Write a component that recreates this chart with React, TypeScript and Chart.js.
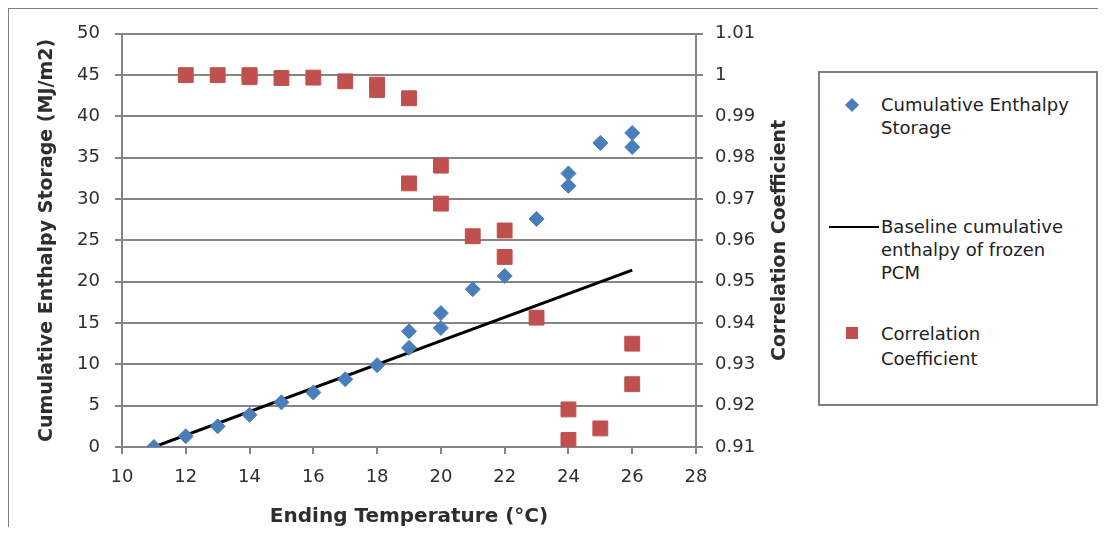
import React, { useEffect, useRef } from "react";
import { Chart, registerables } from "chart.js";

Chart.register(...registerables);

// ---- Data ----
const ENTHALPY_TEMP = [11, 12, 13, 14, 15, 16, 17, 18, 19, 19, 20, 20, 21, 22, 22, 23, 24, 24, 25, 26, 26];
const ENTHALPY = [0, 1.3, 2.5, 3.9, 5.4, 6.6, 8.2, 9.9, 12.0, 14.0, 14.4, 16.2, 19.1, 20.7, 23.0, 27.6, 31.6, 33.1, 36.8, 36.3, 38.0];

const BASELINE_TEMP = [11, 26];
const BASELINE = [0, 21.4];

const CORR_TEMP = [12, 13, 14, 14, 15, 16, 17, 18, 18, 19, 19, 20, 20, 21, 22, 22, 23, 24, 24, 25, 26, 26];
const CORR = [1.0, 1.0, 1.0, 0.9995, 0.9993, 0.9994, 0.9985, 0.9977, 0.9964, 0.9944, 0.9738, 0.9781, 0.9689, 0.961, 0.9624, 0.956, 0.9413, 0.9191, 0.9117, 0.9145, 0.935, 0.9252];

const X_TICKS = [10, 12, 14, 16, 18, 20, 22, 24, 26, 28];
const Y_TICKS = [0, 5, 10, 15, 20, 25, 30, 35, 40, 45, 50];
const Y2_TICKS = [0.91, 0.92, 0.93, 0.94, 0.95, 0.96, 0.97, 0.98, 0.99, 1.0, 1.01];
const Y2_LABELS = ["0.91", "0.92", "0.93", "0.94", "0.95", "0.96", "0.97", "0.98", "0.99", "1", "1.01"];

const X_TITLE = "Ending Temperature (°C)";
const Y_TITLE = "Cumulative Enthalpy Storage (MJ/m2)";
const Y2_TITLE = "Correlation Coefficient";

const LEGEND_ENTHALPY = ["Cumulative Enthalpy", "Storage"];
const LEGEND_BASELINE = ["Baseline cumulative", "enthalpy of frozen", "PCM"];
const LEGEND_CORR = ["Correlation", "Coefficient"];

const BLUE = "#4a7ebb";
const RED = "#c0504d";
const GRID = "#858585";
const TEXT = "#2e2e2e";
const FONT = '"DejaVu Sans", Verdana, sans-serif';

const W = 1090;
const H = 519;

const rightTitlePlugin = {
  id: "rightTitle",
  afterDraw(chart: any) {
    const ctx = chart.ctx;
    const s = chart.scales.y2;
    const ca = chart.chartArea;
    ctx.save();
    ctx.translate(s.left + 84, (ca.top + ca.bottom) / 2);
    ctx.rotate(-Math.PI / 2);
    ctx.font = `bold 19px ${FONT}`;
    ctx.fillStyle = TEXT;
    ctx.textAlign = "center";
    ctx.textBaseline = "middle";
    ctx.fillText(Y2_TITLE, 0, 0);
    ctx.restore();
  },
};

function Chart1() {
  const ref = useRef<HTMLCanvasElement | null>(null);
  useEffect(() => {
    if (!ref.current) return;
    const tickFont = { family: FONT, size: 18 };
    const chart = new Chart(ref.current, {
      type: "scatter",
      data: {
        datasets: [
          {
            label: "Correlation Coefficient",
            data: CORR_TEMP.map((x, i) => ({ x, y: CORR[i] })),
            yAxisID: "y2",
            pointStyle: "rect",
            pointRadius: 10.5,
            backgroundColor: RED,
            borderColor: RED,
            borderWidth: 1,
            showLine: false,
            order: 0,
          },
          {
            label: "Cumulative Enthalpy Storage",
            data: ENTHALPY_TEMP.map((x, i) => ({ x, y: ENTHALPY[i] })),
            yAxisID: "y",
            pointStyle: "rectRot",
            pointRadius: 7.5,
            backgroundColor: BLUE,
            borderColor: BLUE,
            borderWidth: 1,
            showLine: false,
            order: 1,
          },
          {
            label: "Baseline cumulative enthalpy of frozen PCM",
            data: BASELINE_TEMP.map((x, i) => ({ x, y: BASELINE[i] })),
            yAxisID: "y",
            showLine: true,
            borderColor: "#000000",
            borderWidth: 3,
            pointRadius: 0,
            fill: false,
            order: 2,
          } as any,
        ],
      },
      options: {
        animation: false,
        responsive: false,
        devicePixelRatio: 1,
        layout: { padding: { left: 0, top: 25, right: 292, bottom: 0 } },
        plugins: {
          legend: { display: false },
          tooltip: { enabled: false },
        },
        scales: {
          x: {
            type: "linear",
            min: 10,
            max: 28,
            afterBuildTicks: (s: any) => {
              s.ticks = X_TICKS.map((v) => ({ value: v }));
            },
            afterFit: (s: any) => {
              s.height = 80;
            },
            grid: { drawOnChartArea: false, tickLength: 7, color: GRID, lineWidth: 2 },
            border: { color: GRID, width: 2 },
            ticks: { font: tickFont, color: TEXT, padding: 13, maxRotation: 0 },
            title: {
              display: true,
              text: X_TITLE,
              font: { family: FONT, size: 20, weight: "bold", lineHeight: 1 },
              color: TEXT,
              padding: { top: 0, bottom: 0 },
            },
          },
          y: {
            type: "linear",
            position: "left",
            min: 0,
            max: 50,
            afterBuildTicks: (s: any) => {
              s.ticks = Y_TICKS.map((v) => ({ value: v }));
            },
            afterFit: (s: any) => {
              s.width = 114;
            },
            grid: { tickLength: 7, color: GRID, lineWidth: 2 },
            border: { color: GRID, width: 2 },
            ticks: { font: tickFont, color: TEXT, padding: 15 },
            title: {
              display: true,
              text: Y_TITLE,
              font: { family: FONT, size: 19, weight: "bold", lineHeight: 1 },
              color: TEXT,
              padding: { top: 30, bottom: 0 },
            },
          },
          y2: {
            type: "linear",
            position: "right",
            min: 0.91,
            max: 1.01,
            afterBuildTicks: (s: any) => {
              s.ticks = Y2_TICKS.map((v) => ({ value: v }));
            },
            afterFit: (s: any) => {
              s.width = 110;
            },
            grid: { drawOnChartArea: false, tickLength: 7, color: GRID, lineWidth: 2 },
            border: { color: GRID, width: 2 },
            ticks: {
              font: tickFont,
              color: TEXT,
              padding: 12,
              callback: (v: any) => {
                const i = Y2_TICKS.findIndex((t) => Math.abs(t - Number(v)) < 1e-6);
                return i >= 0 ? Y2_LABELS[i] : "";
              },
            },
          },
        },
      },
      plugins: [rightTitlePlugin],
    });
    return () => chart.destroy();
  }, []);
  return <canvas ref={ref} width={W} height={H} style={{ position: "absolute", left: 0, top: 0, width: W, height: H }} />;
}

const legendText: React.CSSProperties = {
  fontFamily: FONT,
  fontSize: 18,
  lineHeight: "23px",
  color: "#222",
  position: "absolute",
  left: 61,
  whiteSpace: "nowrap",
};

function Legend() {
  return (
    <div
      style={{
        position: "absolute",
        left: 810,
        top: 63,
        width: 276,
        height: 331,
        border: "2px solid #7f7f7f",
        background: "#fff",
      }}
    >
      <div
        style={{
          position: "absolute",
          left: 27,
          top: 27,
          width: 10,
          height: 10,
          background: BLUE,
          transform: "rotate(45deg)",
        }}
      />
      <div style={{ ...legendText, top: 20 }}>
        {LEGEND_ENTHALPY.map((t, i) => (
          <div key={i}>{t}</div>
        ))}
      </div>
      <div style={{ position: "absolute", left: 9, top: 153, width: 50, height: 2, background: "#000" }} />
      <div style={{ ...legendText, top: 142 }}>
        {LEGEND_BASELINE.map((t, i) => (
          <div key={i}>{t}</div>
        ))}
      </div>
      <div style={{ position: "absolute", left: 26, top: 254, width: 12, height: 12, background: RED }} />
      <div style={{ ...legendText, top: 248, lineHeight: "25px" }}>
        {LEGEND_CORR.map((t, i) => (
          <div key={i}>{t}</div>
        ))}
      </div>
    </div>
  );
}

export default function App() {
  return (
    <div style={{ position: "relative", width: W, height: H }}>
      <div
        style={{
          position: "absolute",
          left: -1,
          top: -1,
          width: W + 10,
          height: H + 10,
          borderTop: "2px solid #7f7f7f",
          borderLeft: "2px solid #7f7f7f",
          pointerEvents: "none",
        }}
      />
      <Chart1 />
      <Legend />
    </div>
  );
}
